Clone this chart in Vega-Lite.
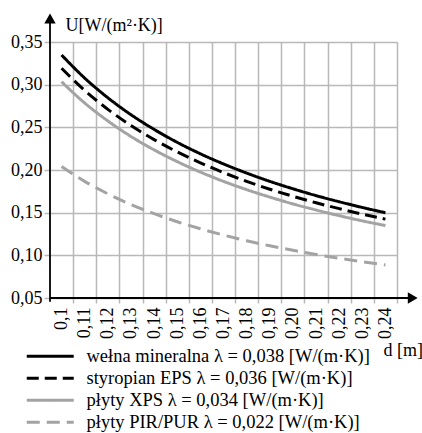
{
  "$schema": "https://vega.github.io/schema/vega-lite/v6.json",
  "width": 347,
  "height": 256,
  "autosize": {"type": "none"},
  "padding": {"left": 50, "top": 42, "right": 25, "bottom": 135},
  "background": "white",
  "config": {
    "view": {"stroke": null},
    "font": "Times New Roman, Liberation Serif, serif"
  },
  "resolve": {"axis": {"x": "independent", "y": "independent"}},
  "layer": [
    {
      "data": {
        "values": [
          {"series": "wełna mineralna λ = 0,038 [W/(m·K)]", "d": 0.10, "U": 0.3348},
          {"series": "wełna mineralna λ = 0,038 [W/(m·K)]", "d": 0.11, "U": 0.3077},
          {"series": "wełna mineralna λ = 0,038 [W/(m·K)]", "d": 0.12, "U": 0.2847},
          {"series": "wełna mineralna λ = 0,038 [W/(m·K)]", "d": 0.13, "U": 0.2648},
          {"series": "wełna mineralna λ = 0,038 [W/(m·K)]", "d": 0.14, "U": 0.2476},
          {"series": "wełna mineralna λ = 0,038 [W/(m·K)]", "d": 0.15, "U": 0.2324},
          {"series": "wełna mineralna λ = 0,038 [W/(m·K)]", "d": 0.16, "U": 0.2190},
          {"series": "wełna mineralna λ = 0,038 [W/(m·K)]", "d": 0.17, "U": 0.2071},
          {"series": "wełna mineralna λ = 0,038 [W/(m·K)]", "d": 0.18, "U": 0.1964},
          {"series": "wełna mineralna λ = 0,038 [W/(m·K)]", "d": 0.19, "U": 0.1867},
          {"series": "wełna mineralna λ = 0,038 [W/(m·K)]", "d": 0.20, "U": 0.1780},
          {"series": "wełna mineralna λ = 0,038 [W/(m·K)]", "d": 0.21, "U": 0.1700},
          {"series": "wełna mineralna λ = 0,038 [W/(m·K)]", "d": 0.22, "U": 0.1628},
          {"series": "wełna mineralna λ = 0,038 [W/(m·K)]", "d": 0.23, "U": 0.1561},
          {"series": "wełna mineralna λ = 0,038 [W/(m·K)]", "d": 0.24, "U": 0.1499},
          {"series": "styropian EPS λ = 0,036 [W/(m·K)]", "d": 0.10, "U": 0.3192},
          {"series": "styropian EPS λ = 0,036 [W/(m·K)]", "d": 0.11, "U": 0.2932},
          {"series": "styropian EPS λ = 0,036 [W/(m·K)]", "d": 0.12, "U": 0.2711},
          {"series": "styropian EPS λ = 0,036 [W/(m·K)]", "d": 0.13, "U": 0.2521},
          {"series": "styropian EPS λ = 0,036 [W/(m·K)]", "d": 0.14, "U": 0.2356},
          {"series": "styropian EPS λ = 0,036 [W/(m·K)]", "d": 0.15, "U": 0.2212},
          {"series": "styropian EPS λ = 0,036 [W/(m·K)]", "d": 0.16, "U": 0.2084},
          {"series": "styropian EPS λ = 0,036 [W/(m·K)]", "d": 0.17, "U": 0.1970},
          {"series": "styropian EPS λ = 0,036 [W/(m·K)]", "d": 0.18, "U": 0.1867},
          {"series": "styropian EPS λ = 0,036 [W/(m·K)]", "d": 0.19, "U": 0.1775},
          {"series": "styropian EPS λ = 0,036 [W/(m·K)]", "d": 0.20, "U": 0.1692},
          {"series": "styropian EPS λ = 0,036 [W/(m·K)]", "d": 0.21, "U": 0.1616},
          {"series": "styropian EPS λ = 0,036 [W/(m·K)]", "d": 0.22, "U": 0.1547},
          {"series": "styropian EPS λ = 0,036 [W/(m·K)]", "d": 0.23, "U": 0.1483},
          {"series": "styropian EPS λ = 0,036 [W/(m·K)]", "d": 0.24, "U": 0.1424},
          {"series": "płyty XPS λ = 0,034 [W/(m·K)]", "d": 0.10, "U": 0.3034},
          {"series": "płyty XPS λ = 0,034 [W/(m·K)]", "d": 0.11, "U": 0.2785},
          {"series": "płyty XPS λ = 0,034 [W/(m·K)]", "d": 0.12, "U": 0.2575},
          {"series": "płyty XPS λ = 0,034 [W/(m·K)]", "d": 0.13, "U": 0.2393},
          {"series": "płyty XPS λ = 0,034 [W/(m·K)]", "d": 0.14, "U": 0.2236},
          {"series": "płyty XPS λ = 0,034 [W/(m·K)]", "d": 0.15, "U": 0.2098},
          {"series": "płyty XPS λ = 0,034 [W/(m·K)]", "d": 0.16, "U": 0.1976},
          {"series": "płyty XPS λ = 0,034 [W/(m·K)]", "d": 0.17, "U": 0.1867},
          {"series": "płyty XPS λ = 0,034 [W/(m·K)]", "d": 0.18, "U": 0.1770},
          {"series": "płyty XPS λ = 0,034 [W/(m·K)]", "d": 0.19, "U": 0.1683},
          {"series": "płyty XPS λ = 0,034 [W/(m·K)]", "d": 0.20, "U": 0.1603},
          {"series": "płyty XPS λ = 0,034 [W/(m·K)]", "d": 0.21, "U": 0.1531},
          {"series": "płyty XPS λ = 0,034 [W/(m·K)]", "d": 0.22, "U": 0.1465},
          {"series": "płyty XPS λ = 0,034 [W/(m·K)]", "d": 0.23, "U": 0.1404},
          {"series": "płyty XPS λ = 0,034 [W/(m·K)]", "d": 0.24, "U": 0.1349},
          {"series": "płyty PIR/PUR λ = 0,022 [W/(m·K)]", "d": 0.10, "U": 0.2041},
          {"series": "płyty PIR/PUR λ = 0,022 [W/(m·K)]", "d": 0.11, "U": 0.1867},
          {"series": "płyty PIR/PUR λ = 0,022 [W/(m·K)]", "d": 0.12, "U": 0.1721},
          {"series": "płyty PIR/PUR λ = 0,022 [W/(m·K)]", "d": 0.13, "U": 0.1596},
          {"series": "płyty PIR/PUR λ = 0,022 [W/(m·K)]", "d": 0.14, "U": 0.1488},
          {"series": "płyty PIR/PUR λ = 0,022 [W/(m·K)]", "d": 0.15, "U": 0.1394},
          {"series": "płyty PIR/PUR λ = 0,022 [W/(m·K)]", "d": 0.16, "U": 0.1311},
          {"series": "płyty PIR/PUR λ = 0,022 [W/(m·K)]", "d": 0.17, "U": 0.1237},
          {"series": "płyty PIR/PUR λ = 0,022 [W/(m·K)]", "d": 0.18, "U": 0.1171},
          {"series": "płyty PIR/PUR λ = 0,022 [W/(m·K)]", "d": 0.19, "U": 0.1112},
          {"series": "płyty PIR/PUR λ = 0,022 [W/(m·K)]", "d": 0.20, "U": 0.1059},
          {"series": "płyty PIR/PUR λ = 0,022 [W/(m·K)]", "d": 0.21, "U": 0.1010},
          {"series": "płyty PIR/PUR λ = 0,022 [W/(m·K)]", "d": 0.22, "U": 0.0966},
          {"series": "płyty PIR/PUR λ = 0,022 [W/(m·K)]", "d": 0.23, "U": 0.0925},
          {"series": "płyty PIR/PUR λ = 0,022 [W/(m·K)]", "d": 0.24, "U": 0.0888}
        ]
      },
      "mark": {"type": "line", "interpolate": "monotone", "strokeWidth": 3},
      "encoding": {
        "x": {
          "field": "d",
          "type": "quantitative",
          "scale": {"domain": [0.095, 0.245], "nice": false, "zero": false},
          "axis": {
            "values": [0.1, 0.105, 0.11, 0.115, 0.12, 0.125, 0.13, 0.135, 0.14, 0.145, 0.15, 0.155, 0.16, 0.165, 0.17, 0.175, 0.18, 0.185, 0.19, 0.195, 0.2, 0.205, 0.21, 0.215, 0.22, 0.225, 0.23, 0.235, 0.24, 0.245],
            "labelExpr": "(round(datum.value*1000)%10==5) ? '' : (round(datum.value*100)==10 ? '0,1' : replace(format(datum.value,'.2f'),'.',','))",
            "labelAngle": -90,
            "labelFont": "Times New Roman, Liberation Serif, serif",
            "labelFontSize": 18,
            "labelColor": "black",
            "labelPadding": 4,
            "labelOverlap": false,
            "labelBound": false,
            "labelFlush": false,
            "domain": false,
            "grid": true,
            "gridColor": "#b8b8b8",
            "gridWidth": 1.5,
            "gridOpacity": {"condition": {"test": "round(datum.value*1000)%10==5", "value": 1}, "value": 0},
            "ticks": true,
            "tickColor": "#b8b8b8",
            "tickWidth": 1.5,
            "tickSize": 5,
            "tickOpacity": {"condition": {"test": "round(datum.value*1000)%10==5", "value": 1}, "value": 0},
            "title": "d [m]",
            "titleFont": "Times New Roman, Liberation Serif, serif",
            "titleFontSize": 18,
            "titleFontWeight": "normal",
            "titleColor": "black",
            "titleAngle": 0,
            "titleAlign": "left",
            "titleBaseline": "alphabetic",
            "titleX": 333,
            "titleY": 57
          }
        },
        "y": {
          "field": "U",
          "type": "quantitative",
          "scale": {"domain": [0.05, 0.35], "nice": false, "zero": false},
          "axis": {
            "values": [0.05, 0.1, 0.15, 0.2, 0.25, 0.3, 0.35],
            "labelExpr": "replace(format(datum.value,'.2f'),'.',',')",
            "labelFont": "Times New Roman, Liberation Serif, serif",
            "labelFontSize": 18,
            "labelColor": "black",
            "labelPadding": 2,
            "domain": false,
            "grid": true,
            "gridColor": "#b8b8b8",
            "gridWidth": 1.5,
            "tickColor": "#b8b8b8",
            "tickWidth": 1.5,
            "tickSize": 6,
            "title": "U[W/(m²·K)]",
            "titleFont": "Times New Roman, Liberation Serif, serif",
            "titleFontSize": 18,
            "titleFontWeight": "normal",
            "titleColor": "black",
            "titleAngle": 0,
            "titleAlign": "left",
            "titleBaseline": "alphabetic",
            "titleX": 15,
            "titleY": -12
          }
        },
        "color": {
          "field": "series",
          "type": "nominal",
          "scale": {
            "domain": ["wełna mineralna λ = 0,038 [W/(m·K)]", "styropian EPS λ = 0,036 [W/(m·K)]", "płyty XPS λ = 0,034 [W/(m·K)]", "płyty PIR/PUR λ = 0,022 [W/(m·K)]"],
            "range": ["#000000", "#000000", "#a3a3a3", "#a3a3a3"]
          },
          "legend": {
            "orient": "none",
            "legendX": -9,
            "legendY": 305,
            "title": null,
            "symbolType": "M-4,0H4",
            "symbolSize": 138,
            "symbolStrokeWidth": 3,
            "labelFont": "Times New Roman, Liberation Serif, serif",
            "labelFontSize": 18.5,
            "labelColor": "black",
            "labelLimit": 400,
            "labelOffset": 27,
            "rowPadding": 3
          }
        },
        "strokeDash": {
          "field": "series",
          "type": "nominal",
          "scale": {
            "domain": ["wełna mineralna λ = 0,038 [W/(m·K)]", "styropian EPS λ = 0,036 [W/(m·K)]", "płyty XPS λ = 0,034 [W/(m·K)]", "płyty PIR/PUR λ = 0,022 [W/(m·K)]"],
            "range": [[1, 0], [12, 6], [1, 0], [13, 7]]
          }
        }
      }
    },
    {
      "data": {"values": [{}]},
      "mark": {"type": "rule", "color": "black", "strokeWidth": 1.8},
      "encoding": {
        "x": {"datum": 0.095, "type": "quantitative", "axis": null},
        "y": {"datum": 0.0455, "type": "quantitative", "axis": null},
        "y2": {"datum": 0.374}
      }
    },
    {
      "data": {"values": [{}]},
      "mark": {"type": "rule", "color": "black", "strokeWidth": 1.8},
      "encoding": {
        "y": {"datum": 0.05, "type": "quantitative", "axis": null},
        "x": {"datum": 0.095, "type": "quantitative", "axis": null},
        "x2": {"datum": 0.25}
      }
    },
    {
      "data": {"values": [{}]},
      "mark": {"type": "point", "shape": "triangle-up", "filled": true, "color": "black", "size": 130, "opacity": 1},
      "encoding": {
        "x": {"datum": 0.095, "type": "quantitative", "axis": null},
        "y": {"datum": 0.3775, "type": "quantitative", "axis": null}
      }
    },
    {
      "data": {"values": [{}]},
      "mark": {"type": "point", "shape": "triangle-right", "filled": true, "color": "black", "size": 130, "opacity": 1},
      "encoding": {
        "x": {"datum": 0.2518, "type": "quantitative", "axis": null},
        "y": {"datum": 0.05, "type": "quantitative", "axis": null}
      }
    }
  ]
}
